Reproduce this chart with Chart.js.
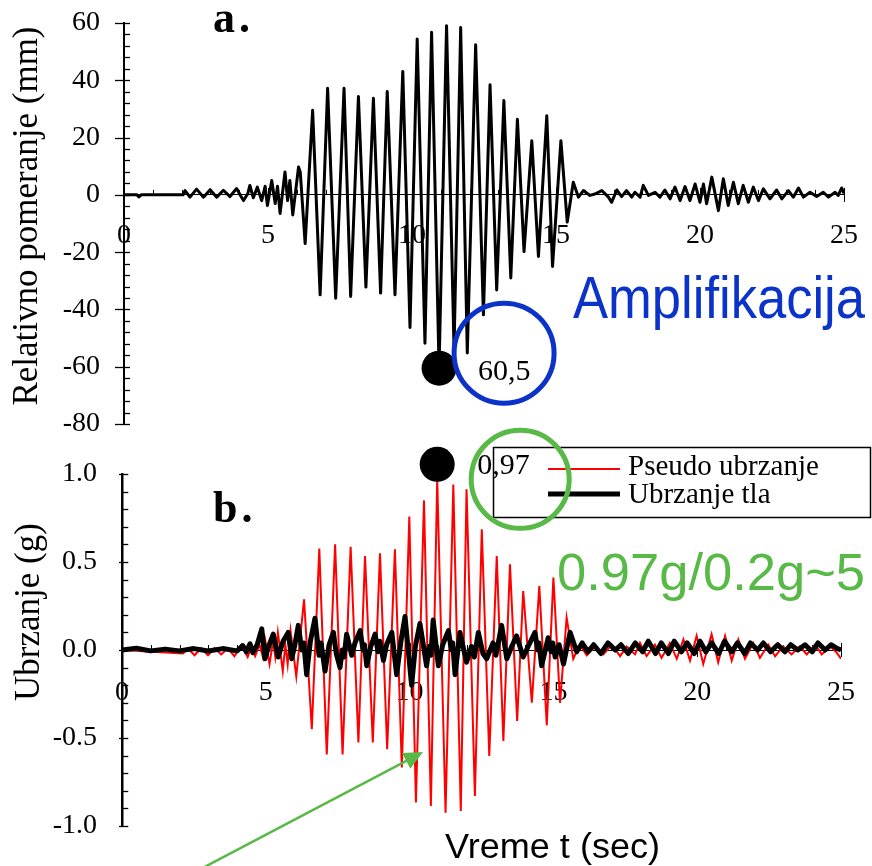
<!DOCTYPE html>
<html>
<head>
<meta charset="utf-8">
<title>Relativno pomeranje i ubrzanje</title>
<script src="https://cdn.jsdelivr.net/npm/chart.js@4.4.0/dist/chart.umd.min.js"></script>
<style>
  html, body { margin: 0; padding: 0; background: #fff; }
  #wrap { position: relative; width: 872px; height: 866px; overflow: hidden; }
  #wrap canvas { position: absolute; left: 0; }
  #dispCanvas { top: 0; }
  #accCanvas { top: 400px; }
</style>
</head>
<body>
<div id="wrap">
  <canvas id="dispCanvas" width="872" height="440"></canvas>
  <canvas id="accCanvas" width="872" height="466"></canvas>
</div>
<script>
// relativno pomeranje (mm) - vrhovi i dolovi zapisa
const dispTime = [
  0, 0.45, 0.52, 0.6, 2.05,
  2.12, 2.29, 2.52, 2.76, 2.99, 3.22, 3.45, 3.68, 3.91, 4.05,
  4.15, 4.3, 4.37, 4.49, 4.63, 4.78, 4.9, 4.98, 5.13, 5.25,
  5.33, 5.42, 5.59, 5.68, 5.76, 5.86, 6.06, 6.12, 6.29,
  6.55, 6.81, 7.07, 7.35, 7.64, 7.87, 8.14, 8.40, 8.66, 8.91,
  9.14, 9.41, 9.68, 9.93, 10.18, 10.45, 10.68, 10.94, 11.2, 11.46,
  11.69, 11.92, 12.21, 12.48, 12.71, 12.94, 13.19, 13.43, 13.66, 13.89,
  14.16, 14.39, 14.68, 14.88, 15.17, 15.39,
  15.6, 15.78, 15.95, 16.18, 16.35, 16.59, 16.82, 16.93, 17.11, 17.28,
  17.45, 17.63, 17.74, 17.92, 18.03, 18.21, 18.44, 18.61, 18.78, 18.96,
  19.13, 19.31, 19.48, 19.65, 19.83, 20.0, 20.12, 20.23, 20.41, 20.64,
  20.81, 20.98, 21.16, 21.33, 21.5, 21.68, 21.85, 22.03, 22.2, 22.43,
  22.66, 22.84, 23.07, 23.24, 23.42, 23.59, 23.82, 24.05, 24.28, 24.46,
  24.69, 24.8, 24.92, 25
];
const dispValue = [
  0, 0, -0.7, 0, 0,
  1.5, -0.8, 2.0, -0.8, 1.8, -0.8, 1.6, -0.6, 2.2, -0.3,
  -2.0, 0.5, 3.3, -1.0, 2.7, -2.0, 3.0, -3.7, 5.0, -3.0,
  3.0, -6.5, 8.0, -2.0, 5.0, -7.0, 9.7, 8.0, -17.0,
  29.5, -34.9, 37.2, -36.1, 37.2, -35.5, 34.3, -32.2, 33.7, -34.3,
  36.1, -34.9, 43.1, -46.3, 54.4, -51.8, 56.8, -60.5, 59.0, -54.0,
  58.4, -55.2, 52.4, -41.9, 38.4, -33.2, 32.9, -29.0, 26.4, -19.8,
  18.9, -21.5, 27.6, -25.0, 18.9, -9.5,
  4.4, -0.8, 1.5, -0.2, 0.3, 1.5, -0.8, -2.6, 1.7, -0.6,
  1.5, -0.8, 0.9, -0.8, 3.3, -0.2, 0.9, -0.8, 1.7, -1.4,
  2.7, -2.0, 2.9, -2.0, 3.8, -2.6, 3.8, -3.1, 6.2, -5.5,
  5.6, -3.7, 4.4, -3.1, 3.3, -2.6, 2.7, -2.0, 2.1, -1.4,
  1.7, -1.4, 1.5, -0.8, 2.4, -0.8, 0.9, -0.6, 0.9, -0.8,
  0.9, -0.2, 2.4, 0.5
];

// pseudo ubrzanje (g)
const pseudoTime = [
  0, 2.12, 2.29, 2.52, 2.76, 2.99, 3.22, 3.45, 3.68, 3.91,
  4.15, 4.37, 4.49, 4.63, 4.78, 4.9, 4.98, 5.13, 5.25, 5.33,
  5.42, 5.59, 5.68, 5.76, 5.86, 6.06, 6.33, 6.6, 6.86, 7.12,
  7.41, 7.67, 7.95, 8.22, 8.45, 8.72, 8.97, 9.22, 9.49, 9.73,
  9.99, 10.22, 10.5, 10.74, 10.96, 11.25, 11.52, 11.78, 11.98, 12.27,
  12.51, 12.77, 13.03, 13.26, 13.49, 13.74, 13.95, 14.25, 14.51, 14.77,
  15.0, 15.23, 15.46,
  15.69, 15.92, 16.16, 16.45, 16.74, 17.03, 17.32, 17.55, 17.84, 18.01,
  18.24, 18.53, 18.76, 19.05, 19.29, 19.52, 19.75, 19.98, 20.21, 20.5,
  20.73, 20.97, 21.2, 21.43, 21.66, 21.95, 22.18, 22.47, 22.71, 22.99,
  23.28, 23.57, 23.81, 24.1, 24.33, 24.62, 24.85, 25
];
const pseudoValue = [
  0, -0.02, 0.01, -0.03, 0.01, -0.03, 0.01, -0.025, 0.01, -0.035,
  0.03, -0.04, 0.015, -0.035, 0.03, -0.04, 0.055, -0.08, 0.05, -0.04,
  0.1, -0.12, 0.03, -0.08, 0.11, -0.15, 0.288, -0.45, 0.576, -0.593,
  0.6, -0.593, 0.587, -0.526, 0.534, -0.526, 0.549, -0.564, 0.572, -0.668,
  0.758, -0.867, 0.85, -0.886, 0.97, -0.924, 0.94, -0.915, 0.913, -0.83,
  0.686, -0.602, 0.534, -0.517, 0.487, -0.403, 0.335, -0.299, 0.364, -0.428,
  0.411, -0.3, 0.184,
  -0.05, 0.03, -0.03, 0.02, -0.025, 0.03, -0.035, 0.02, -0.025, 0.04,
  -0.035, 0.03, -0.045, 0.04, -0.05, 0.06, -0.06, 0.08, -0.08, 0.09,
  -0.07, 0.08, -0.06, 0.06, -0.05, 0.04, -0.045, 0.03, -0.035, 0.02,
  -0.025, 0.02, -0.025, 0.03, -0.025, 0.02, -0.015, -0.05
];

// ubrzanje tla (g)
const groundTime = [
  0, 0.5, 1.0, 1.5, 2.0, 2.5, 3.0, 3.5, 4.0, 4.2,
  4.32, 4.45, 4.55, 4.7, 4.86, 4.97, 5.1, 5.26, 5.43, 5.6,
  5.78, 5.9, 6.0, 6.13, 6.25, 6.32, 6.42, 6.55, 6.71, 6.85,
  6.92, 7.06, 7.2, 7.35, 7.45, 7.58, 7.66, 7.72, 7.81, 7.99,
  8.1, 8.28, 8.38, 8.43, 8.51, 8.65, 8.8, 8.9, 8.97, 9.09,
  9.2, 9.38, 9.55, 9.7, 9.84, 10.07, 10.2, 10.36, 10.59, 10.68,
  10.74, 10.82, 11.0, 11.15, 11.35, 11.45, 11.5, 11.58, 11.75, 11.98,
  12.15, 12.25, 12.39, 12.55, 12.68, 12.9, 13.0, 13.2, 13.38, 13.55,
  13.72, 13.95, 14.15, 14.36, 14.45, 14.5, 14.59, 14.82, 14.92, 14.98,
  15.06, 15.2, 15.35, 15.58, 15.81,
  16.0, 16.2, 16.4, 16.65, 16.9, 17.15, 17.35, 17.6, 17.85, 18.1,
  18.3, 18.55, 18.75, 19.0, 19.2, 19.45, 19.65, 19.9, 20.1, 20.3,
  20.5, 20.75, 20.95, 21.2, 21.4, 21.65, 21.85, 22.1, 22.3, 22.55,
  22.8, 23.05, 23.25, 23.5, 23.75, 24.0, 24.2, 24.45, 24.65, 24.85, 25
];
const groundValue = [
  0, 0.01, -0.005, 0.005, -0.005, 0.008, -0.006, 0.008, -0.005, 0.025,
  -0.01, 0.035, -0.015, 0.03, 0.12, -0.05, 0.02, 0.09, -0.04, 0.05,
  0.1, -0.05, 0.02, 0.14, 0.0, 0.04, -0.14, 0.05, 0.18, -0.03,
  0.04, -0.12, 0.03, 0.1, -0.02, -0.1, 0.0, -0.04, 0.09, -0.03,
  0.04, 0.11, 0.0, 0.03, -0.09, 0.02, 0.09, -0.01, 0.05, -0.06,
  0.03, 0.1, -0.14, 0.05, 0.19, -0.2, 0.02, 0.15, -0.09, 0.02,
  -0.03, 0.17, -0.09, 0.03, 0.11, 0.0, 0.04, -0.14, 0.1, -0.07,
  0.02, -0.04, 0.1, -0.02, -0.05, 0.04, -0.03, 0.14, -0.05, 0.02,
  0.08, -0.04, 0.03, 0.1, 0.0, 0.04, -0.09, 0.07, -0.01, 0.04,
  -0.04, 0.03, -0.08, 0.1, -0.01,
  0.04, -0.01, 0.03, -0.02, 0.04, 0.0, 0.03, -0.02, 0.04, -0.01,
  0.05, -0.02, 0.04, -0.02, 0.05, -0.01, 0.04, -0.02, 0.05, -0.01,
  0.04, -0.02, 0.05, -0.01, 0.04, -0.02, 0.04, 0.0, 0.04, -0.01,
  0.03, -0.01, 0.03, 0.0, 0.03, -0.01, 0.04, 0.0, 0.03, 0.01, 0.0
];

// oznake na osama
const timeTickLabels = [0, 5, 10, 15, 20, 25];
const dispTickLabels = [-80, -60, -40, -20, 0, 20, 40, 60];
const accTickLabels = [-1.0, -0.5, 0.0, 0.5, 1.0];

const SERIF = '"Liberation Serif", "Times New Roman", serif';
const SANS = '"Liberation Sans", Arial, sans-serif';
const BLUE = '#0b33c9';
const GREEN = '#58b947';

const toPoints = (ts, vs) => ts.map((t, i) => ({ x: t, y: vs[i] }));

function timeAxis(labelPadding) {
  return {
    type: 'linear',
    min: 0,
    max: 25,
    position: { y: 0 },
    grid: { display: true, drawOnChartArea: false, drawTicks: false },
    border: { display: true, color: '#000', width: 1 },
    ticks: {
      stepSize: 1,
      autoSkip: false,
      maxRotation: 0,
      padding: labelPadding,
      color: '#000',
      font: { family: SERIF, size: 28 },
      callback: v => timeTickLabels.includes(v) ? String(v) : ''
    },
    afterFit(s) { s.height = 0; s.paddingLeft = 0; s.paddingRight = 0; }
  };
}

// male crtice na osama (glavne i pomocne)
function drawTickMarks(chart, yOut, yIn, borderW) {
  const { ctx, chartArea } = chart;
  const xs = chart.scales.x, ys = chart.scales.y;
  const y0 = ys.getPixelForValue(0);
  ctx.save();
  ctx.strokeStyle = '#000';
  ctx.lineWidth = 1.3;
  ys.ticks.forEach(t => {
    const py = Math.round(ys.getPixelForValue(t.value)) + 0.5;
    const major = t.label !== '';
    ctx.beginPath();
    ctx.moveTo(chartArea.left - (major ? yOut : 0), py);
    ctx.lineTo(chartArea.left + borderW / 2 + yIn, py);
    ctx.stroke();
  });
  ctx.lineWidth = 1;
  xs.ticks.forEach(t => {
    const px = Math.round(xs.getPixelForValue(t.value)) + 0.5;
    const major = t.label !== '';
    ctx.beginPath();
    ctx.moveTo(px, y0 - (major ? 7 : 5));
    ctx.lineTo(px, y0 + (major ? 7 : 0));
    ctx.stroke();
  });
  ctx.restore();
}

function fitText(ctx, text, x, y, width) {
  const w = ctx.measureText(text).width;
  ctx.save();
  ctx.translate(x, y);
  ctx.scale(width / w, 1);
  ctx.fillText(text, 0, 0);
  ctx.restore();
}

function verticalTitle(ctx, text, cx, cy) {
  ctx.save();
  ctx.translate(cx, cy);
  ctx.rotate(-Math.PI / 2);
  ctx.font = '35px ' + SERIF;
  ctx.textAlign = 'center';
  ctx.textBaseline = 'middle';
  ctx.fillStyle = '#000';
  ctx.fillText(text, 0, 0);
  ctx.restore();
}

const dispNotes = {
  id: 'dispNotes',
  beforeDatasetsDraw(chart) { drawTickMarks(chart, 9, 5, 2); },
  afterDraw(chart) {
    const { ctx } = chart;
    const xs = chart.scales.x, ys = chart.scales.y;
    const i = dispValue.indexOf(Math.min(...dispValue));
    const dx = xs.getPixelForValue(dispTime[i]);
    const dy = ys.getPixelForValue(dispValue[i]);
    ctx.save();
    ctx.fillStyle = '#000';
    ctx.beginPath();
    ctx.arc(dx, dy, 17.5, 0, Math.PI * 2);
    ctx.fill();
    ctx.font = '30px ' + SERIF;
    ctx.fillText(Math.abs(dispValue[i]).toFixed(1).replace('.', ','), dx + 39, dy + 12);
    ctx.strokeStyle = BLUE;
    ctx.lineWidth = 5;
    ctx.beginPath();
    ctx.arc(dx + 65, dy - 15, 50, 0, Math.PI * 2);
    ctx.stroke();
    ctx.fillStyle = BLUE;
    ctx.font = '60px ' + SANS;
    fitText(ctx, 'Amplifikacija', 573, 318, 292);
    ctx.fillStyle = '#000';
    ctx.font = 'bold 44px ' + SERIF;
    ctx.letterSpacing = '4px';
    ctx.fillText('a.', 213, 32);
    ctx.letterSpacing = '0px';
    ctx.restore();
    verticalTitle(ctx, 'Relativno pomeranje (mm)', 28, 216);
  }
};

const accNotes = {
  id: 'accNotes',
  beforeDatasetsDraw(chart) { drawTickMarks(chart, 3, 5, 2.5); },
  afterDraw(chart) {
    const { ctx } = chart;
    const xs = chart.scales.x, ys = chart.scales.y;
    const i = pseudoValue.indexOf(Math.max(...pseudoValue));
    const dx = xs.getPixelForValue(pseudoTime[i]);
    const dy = ys.getPixelForValue(pseudoValue[i]) - 15;
    ctx.save();
    ctx.fillStyle = '#000';
    ctx.beginPath();
    ctx.arc(dx, dy, 17.5, 0, Math.PI * 2);
    ctx.fill();

    // legenda
    const box = { x: 493.5, y: 47.5, w: 377, h: 70 };
    ctx.fillStyle = '#fff';
    ctx.fillRect(box.x, box.y, box.w, box.h);
    ctx.strokeStyle = '#000';
    ctx.lineWidth = 1.5;
    ctx.strokeRect(box.x, box.y, box.w, box.h);
    const rows = [69, 94];
    ctx.font = '29px ' + SERIF;
    chart.data.datasets.forEach((ds, k) => {
      ctx.strokeStyle = ds.borderColor;
      ctx.lineWidth = ds.borderWidth;
      ctx.beginPath();
      ctx.moveTo(548, rows[k]);
      ctx.lineTo(620, rows[k]);
      ctx.stroke();
      ctx.fillStyle = '#000';
      ctx.fillText(ds.label, 628, rows[k] + (k === 0 ? 6 : 9));
    });

    ctx.fillStyle = '#000';
    ctx.font = '30px ' + SERIF;
    ctx.fillText(pseudoValue[i].toFixed(2).replace('.', ','), dx + 40, dy + 10);

    ctx.strokeStyle = GREEN;
    ctx.lineWidth = 5;
    ctx.beginPath();
    ctx.arc(dx + 83, dy + 15, 49, 0, Math.PI * 2);
    ctx.stroke();

    ctx.fillStyle = GREEN;
    ctx.font = '52px ' + SANS;
    fitText(ctx, '0.97g/0.2g~5', 557, 190, 308);

    // strelica
    const tip = { x: 423, y: 352 };
    const from = { x: 195, y: 472 };
    const ang = Math.atan2(tip.y - from.y, tip.x - from.x);
    ctx.strokeStyle = GREEN;
    ctx.lineWidth = 2.5;
    ctx.beginPath();
    ctx.moveTo(from.x, from.y);
    ctx.lineTo(tip.x - 14 * Math.cos(ang), tip.y - 14 * Math.sin(ang));
    ctx.stroke();
    ctx.beginPath();
    ctx.moveTo(tip.x, tip.y);
    ctx.lineTo(tip.x - 19 * Math.cos(ang) + 9 * Math.sin(ang), tip.y - 19 * Math.sin(ang) - 9 * Math.cos(ang));
    ctx.lineTo(tip.x - 19 * Math.cos(ang) - 9 * Math.sin(ang), tip.y - 19 * Math.sin(ang) + 9 * Math.cos(ang));
    ctx.closePath();
    ctx.fill();

    ctx.fillStyle = '#000';
    ctx.font = 'bold 44px ' + SERIF;
    ctx.letterSpacing = '4px';
    ctx.fillText('b.', 213, 122);
    ctx.letterSpacing = '0px';

    ctx.font = '35px ' + SANS;
    fitText(ctx, 'Vreme t (sec)', 445, 458, 215);
    ctx.restore();
    verticalTitle(ctx, 'Ubrzanje (g)', 30, 212);
  }
};

new Chart(document.getElementById('dispCanvas'), {
  type: 'line',
  data: {
    datasets: [{
      label: 'Relativno pomeranje',
      data: toPoints(dispTime, dispValue),
      borderColor: '#000',
      borderWidth: 3,
      borderJoinStyle: 'round',
      pointRadius: 0,
      tension: 0
    }]
  },
  options: {
    responsive: false,
    animation: false,
    layout: { padding: { left: 0, top: 23, right: 28, bottom: 16 } },
    plugins: { legend: { display: false }, tooltip: { enabled: false } },
    scales: {
      x: timeAxis(24),
      y: {
        type: 'linear',
        position: 'left',
        min: -80,
        max: 60,
        grid: { display: true, drawOnChartArea: false, drawTicks: false },
        border: { display: true, color: '#000', width: 2 },
        ticks: {
          stepSize: 4,
          autoSkip: false,
          padding: 24,
          color: '#000',
          font: { family: SERIF, size: 28 },
          callback: v => dispTickLabels.includes(v) ? String(v) : ''
        },
        afterFit(s) { s.width = 124; s.paddingTop = 0; s.paddingBottom = 0; }
      }
    }
  },
  plugins: [dispNotes]
});

new Chart(document.getElementById('accCanvas'), {
  type: 'line',
  data: {
    datasets: [{
      label: 'Pseudo ubrzanje',
      data: toPoints(pseudoTime, pseudoValue),
      borderColor: '#ff0000',
      borderWidth: 2,
      pointRadius: 0,
      tension: 0,
      order: 1
    }, {
      label: 'Ubrzanje tla',
      data: toPoints(groundTime, groundValue),
      borderColor: '#000',
      borderWidth: 5,
      borderJoinStyle: 'round',
      pointRadius: 0,
      tension: 0,
      order: 0
    }]
  },
  options: {
    responsive: false,
    animation: false,
    layout: { padding: { left: 0, top: 74, right: 31, bottom: 40 } },
    plugins: { legend: { display: false }, tooltip: { enabled: false } },
    scales: {
      x: timeAxis(26),
      y: {
        type: 'linear',
        position: 'left',
        min: -1,
        max: 1,
        grid: { display: true, drawOnChartArea: false, drawTicks: false },
        border: { display: true, color: '#000', width: 2.5 },
        ticks: {
          stepSize: 0.1,
          autoSkip: false,
          padding: 25,
          color: '#000',
          font: { family: SERIF, size: 28 },
          callback: v => accTickLabels.some(l => Math.abs(l - v) < 1e-6) ? v.toFixed(1) : ''
        },
        afterFit(s) { s.width = 122; s.paddingTop = 0; s.paddingBottom = 0; }
      }
    }
  },
  plugins: [accNotes]
});
</script>
</body>
</html>
